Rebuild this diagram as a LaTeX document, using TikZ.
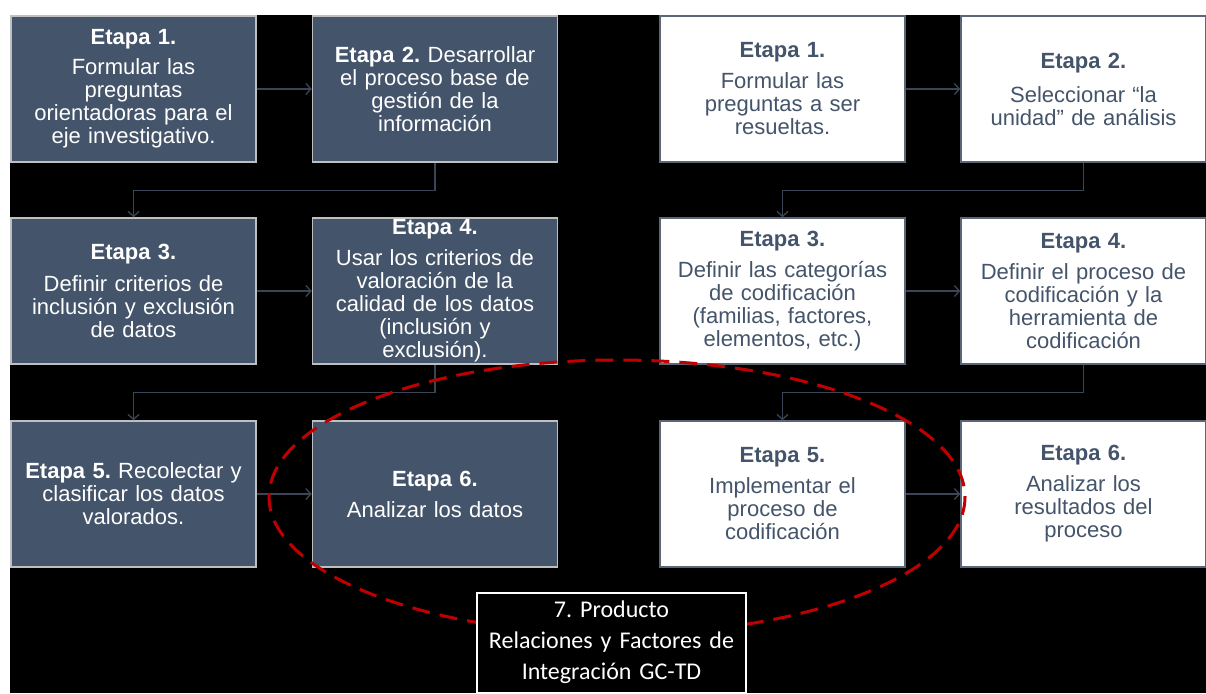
\documentclass[tikz,border=0pt]{standalone}
\usepackage{fontspec}
\setmainfont{Liberation Sans}
\newfontfamily\carlito{Carlito}
\usetikzlibrary{arrows.meta}
\definecolor{slate}{HTML}{44546A}
\definecolor{lborder}{HTML}{BFBFBF}
\definecolor{rborder}{HTML}{5B6677}
\definecolor{conn}{HTML}{3A4556}
\definecolor{dred}{HTML}{C00000}
\begin{document}
\frenchspacing
\begin{tikzpicture}[x=1pt,y=-1pt,
  base/.style={rectangle, minimum width=245pt, minimum height=146pt, inner sep=0pt,
     text width=238pt, align=center, font=\fontsize{22}{23}\selectfont\frenchspacing},
  darkbox/.style={base, fill=slate, draw=lborder, line width=1.5pt, text=white},
  lightbox/.style={base, fill=white, draw=rborder, line width=1.5pt, text=slate},
  prodbox/.style={rectangle, minimum width=269pt, minimum height=100pt, inner sep=0pt,
     text width=264pt, align=center, fill=black, draw=white, line width=2pt, text=white,
     font=\carlito\fontsize{24}{31}\selectfont\frenchspacing},
  conn/.style={draw=conn, line width=1.3pt, -{Straight Barb[length=5pt,width=11pt]}},
  oval/.style={draw=dred, line width=3pt, dash pattern=on 18pt off 10pt}
]
\useasboundingbox (0,0) rectangle (1206,693);
\fill[white] (0,0) rectangle (1206,693);
\fill[black] (10,15) rectangle (1206,693);

% left column
\node[darkbox] (L1) at (133.5,89) {\textbf{Etapa 1.}\\[7pt]Formular las\\preguntas\\orientadoras para el\\eje investigativo.};
\node[darkbox] (L2) at (435,89) {\textbf{Etapa 2.} Desarrollar\\el proceso base de\\gestión de la\\información};
\node[darkbox] (L3) at (133.5,291) {\textbf{Etapa 3.}\\[9pt]Definir criterios de\\inclusión y exclusión\\de datos};
\node[darkbox] (L4) at (435,291) {\textbf{Etapa 4.}\\[8pt]Usar los criterios de\\valoración de la\\calidad de los datos\\(inclusión y\\exclusión).};
\node[darkbox] (L5) at (133.5,494) {\textbf{Etapa 5.} Recolectar y\\clasificar los datos\\valorados.};
\node[darkbox] (L6) at (435,494) {\textbf{Etapa 6.}\\[8pt]Analizar los datos};

% right column
\node[lightbox] (R1) at (782.5,89) {\textbf{Etapa 1.}\\[8pt]Formular las\\preguntas a ser\\resueltas.};
\node[lightbox] (R2) at (1083.5,89) {\textbf{Etapa 2.}\\[11pt]Seleccionar “la\\unidad” de análisis};
\node[lightbox] (R3) at (782.5,291) {\textbf{Etapa 3.}\\[8pt]Definir las categorías\\de codificación\\(familias, factores,\\elementos, etc.)};
\node[lightbox] (R4) at (1083.5,291) {\textbf{Etapa 4.}\\[8pt]Definir el proceso de\\codificación y la\\herramienta de\\codificación};
\node[lightbox] (R5) at (782.5,494) {\textbf{Etapa 5.}\\[8pt]Implementar el\\proceso de\\codificación};
\node[lightbox] (R6) at (1083.5,494) {\textbf{Etapa 6.}\\[8pt]Analizar los\\resultados del\\proceso};

% connectors
\draw[conn] (L1) -- (L2);
\draw[conn] (L3) -- (L4);
\draw[conn] (L5) -- (L6);
\draw[conn] (R1) -- (R2);
\draw[conn] (R3) -- (R4);
\draw[conn] (R5) -- (R6);
\draw[conn] (L2.south) -- ++(0,28) -| (L3.north);
\draw[conn] (L4.south) -- ++(0,28) -| (L5.north);
\draw[conn] (R2.south) -- ++(0,28) -| (R3.north);
\draw[conn] (R4.south) -- ++(0,28) -| (R5.north);

% dashed oval
\draw[oval] (617,497) ellipse [x radius=348, y radius=137];

% product
\node[prodbox] (P) at (611.5,642.5) {7. Producto\\Relaciones y Factores de\\Integración GC-TD};
\end{tikzpicture}
\end{document}
